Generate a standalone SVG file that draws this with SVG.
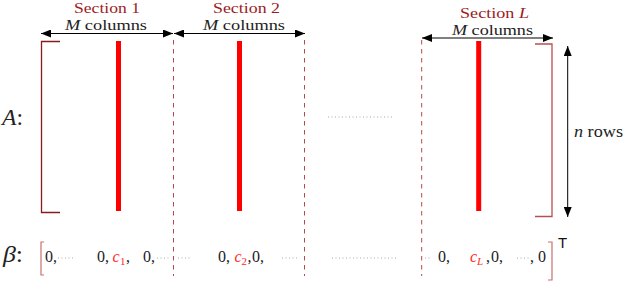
<svg xmlns="http://www.w3.org/2000/svg" width="623" height="281" viewBox="0 0 623 281">
<defs>
<marker id="ah" viewBox="0 0 10 8" refX="10" refY="4" markerWidth="10" markerHeight="8" markerUnits="userSpaceOnUse" orient="auto-start-reverse">
<path d="M0,0 L10,4 L0,8 z" fill="#000"/>
</marker>
<style>
text{font-family:'Liberation Serif','Times New Roman',serif}
.sec{font-size:15px;fill:#9b1c1c;text-anchor:middle}
.lbl{font-size:15px;fill:#222;text-anchor:middle}
.it{font-style:italic}
.row{font-size:16px;fill:#222}
.red{fill:#ff2a2a;font-style:italic}
.sub{font-size:11px}
.big{font-size:24px;fill:#222}
.arr{stroke:#000;stroke-width:1;fill:none;marker-start:url(#ah);marker-end:url(#ah)}
.bar{stroke:#ff0000;stroke-width:5}
.dash{stroke:#b84848;stroke-width:1;stroke-dasharray:4.5 4.5;fill:none}
.dots{stroke:#aaa;stroke-width:1;stroke-dasharray:1 2.5;fill:none}
.brk{stroke:#8b1a1a;stroke-width:1.3;fill:none}
.brk2{stroke:#b55050;stroke-width:1.3;fill:none}
.brk3{stroke:#c87070;stroke-width:1.2;fill:none}
</style>
</defs>
<rect width="623" height="281" fill="#fff"/>

<g id="labels" font-family="Liberation Serif, serif">
<text class="big" x="2" y="125" textLength="21" lengthAdjust="spacingAndGlyphs"><tspan class="it">A</tspan>:</text>
<text class="big" x="3" y="262" textLength="20" lengthAdjust="spacingAndGlyphs"><tspan class="it">β</tspan>:</text>
</g>

<g id="section1" font-family="Liberation Serif, serif">
<text class="sec" x="107" y="12.8" textLength="66" lengthAdjust="spacingAndGlyphs">Section 1</text>
<text class="lbl" x="106" y="29.5" textLength="82" lengthAdjust="spacingAndGlyphs"><tspan class="it">M</tspan> columns</text>
<line class="bar" x1="118.5" y1="41" x2="118.5" y2="211"/>
</g>
<g id="section2" font-family="Liberation Serif, serif">
<text class="sec" x="246.5" y="12.8" textLength="67" lengthAdjust="spacingAndGlyphs">Section 2</text>
<text class="lbl" x="244" y="29.5" textLength="82" lengthAdjust="spacingAndGlyphs"><tspan class="it">M</tspan> columns</text>
<line class="bar" x1="239.5" y1="41" x2="239.5" y2="211"/>
</g>
<g id="sectionL" font-family="Liberation Serif, serif">
<text class="sec" x="494.5" y="18.2" textLength="69" lengthAdjust="spacingAndGlyphs">Section <tspan class="it">L</tspan></text>
<text class="lbl" x="492.5" y="34.8" textLength="81" lengthAdjust="spacingAndGlyphs"><tspan class="it">M</tspan> columns</text>
<line class="bar" x1="478.7" y1="41" x2="478.7" y2="211"/>
</g>

<g id="matrixA" font-family="Liberation Serif, serif">
<path class="brk" d="M60,41.5 H41.5 V212.5 H60"/>
<path class="brk2" d="M535,44 H552 V216.5 H535"/>
<line class="dots" x1="328" y1="117" x2="392" y2="117"/>
<text class="lbl" x="574" y="137" style="text-anchor:start;font-size:16px" textLength="49" lengthAdjust="spacingAndGlyphs"><tspan class="it">n</tspan> rows</text>
</g>

<g id="connectors">
<line class="arr" x1="41" y1="33.5" x2="173" y2="33.5"/>
<line class="arr" x1="174" y1="33.5" x2="305" y2="33.5"/>
<line class="arr" x1="422" y1="38" x2="553" y2="38"/>
<line class="arr" x1="567.7" y1="46" x2="567.7" y2="217"/>
<line class="dash" x1="173.5" y1="40" x2="173.5" y2="276"/>
<line class="dash" x1="304.5" y1="40" x2="304.5" y2="276"/>
<line class="dash" x1="421.7" y1="40" x2="421.7" y2="276"/>
</g>

<g id="beta" font-family="Liberation Serif, serif">
<path class="brk3" d="M44,242 H41 V275 H44"/>
<path class="brk3" d="M548,242 H552 V280 H548"/>
<text class="row" x="45" y="262">0,</text>
<line class="dots" x1="58" y1="258" x2="74" y2="258"/>
<text class="row" x="97" y="262">0,</text>
<text class="row red" x="112.5" y="262">c</text><text class="row red sub" x="120" y="265" style="font-style:normal">1</text><text class="row" x="126" y="262">,</text>
<text class="row" x="143" y="262">0,</text>
<line class="dots" x1="157" y1="258" x2="170" y2="258"/>
<line class="dots" x1="178" y1="258" x2="192" y2="258"/>
<text class="row" x="218" y="262">0,</text>
<text class="row red" x="234.5" y="262">c</text><text class="row red sub" x="241.5" y="265" style="font-style:normal">2</text><text class="row" x="247.5" y="262">,</text>
<text class="row" x="252" y="262">0,</text>
<line class="dots" x1="282" y1="258" x2="298" y2="258"/>
<line class="dots" x1="332" y1="258" x2="396" y2="258"/>
<line class="dots" x1="425" y1="258" x2="431" y2="258"/>
<text class="row" x="438" y="262">0,</text>
<text class="row red" x="470" y="262">c</text><text class="row red sub" x="477" y="265">L</text><text class="row" x="486" y="262">,</text>
<text class="row" x="491" y="262">0,</text>
<line class="dots" x1="517" y1="258" x2="529" y2="258"/>
<text class="row" x="530" y="262">,</text>
<text class="row" x="538" y="262">0</text>
<text x="558" y="248" style="font-family:'Liberation Sans','DejaVu Sans',sans-serif;font-size:15px;fill:#111">T</text>
</g>
</svg>
